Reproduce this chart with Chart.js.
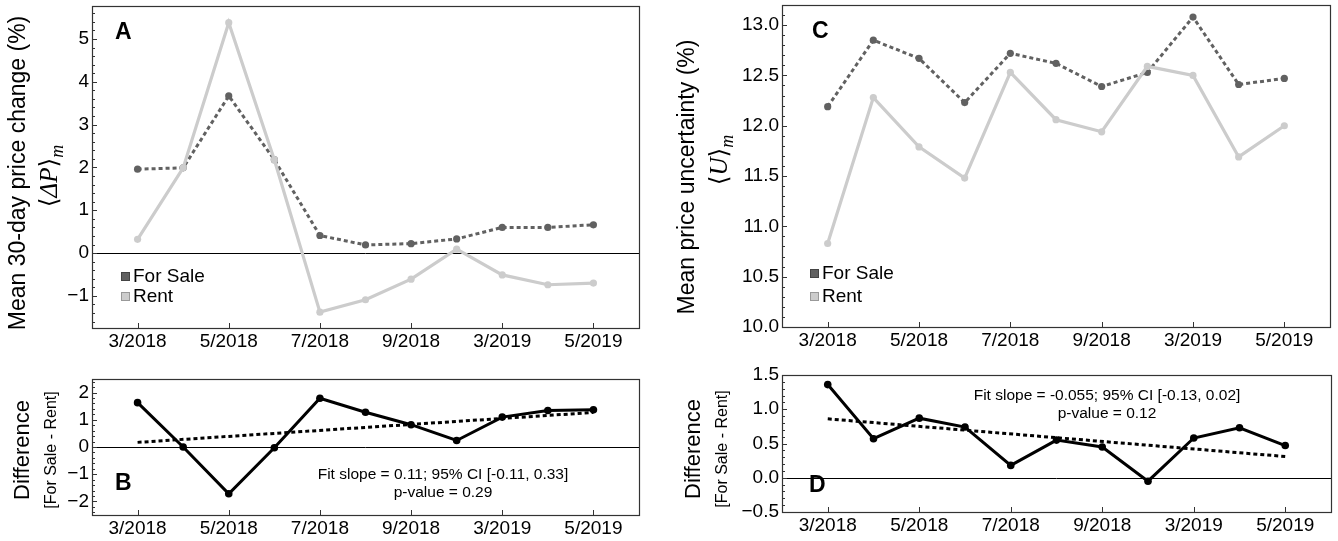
<!DOCTYPE html>
<html>
<head>
<meta charset="utf-8">
<title>Price change and uncertainty</title>
<script src="https://cdn.jsdelivr.net/npm/chart.js@4.4.0/dist/chart.umd.min.js"></script>
<style>
  html, body { margin: 0; padding: 0; background: #fff; }
  #wrap { position: relative; width: 1338px; height: 541px; overflow: hidden; }
  canvas { position: absolute; }
</style>
</head>
<body>
<div id="wrap">
  <canvas id="chartA" width="660" height="360" style="left:0;top:0"></canvas>
  <canvas id="chartB" width="660" height="196" style="left:0;top:345px"></canvas>
  <canvas id="chartC" width="668" height="360" style="left:670px;top:0"></canvas>
  <canvas id="chartD" width="668" height="196" style="left:670px;top:345px"></canvas>
</div>
<script>
// months of the survey (only every other one gets a label)
var months = ['3/2018', '4/2018', '5/2018', '6/2018', '7/2018', '8/2018',
              '9/2018', '10/2018', '3/2019', '4/2019', '5/2019'];
var tickLabels = ['3/2018', '5/2018', '7/2018', '9/2018', '3/2019', '5/2019'];

// A: mean 30-day price change (%)
var changeSale = [1.96, 1.99, 3.67, 2.18, 0.41, 0.19, 0.22, 0.33, 0.60, 0.60, 0.66];
var changeRent = [0.32, 1.99, 5.38, 2.18, -1.38, -1.09, -0.61, 0.09, -0.51, -0.74, -0.70];
// B: difference for sale - rent, and the fit line at first and last month
var changeDiff = [1.63, 0.00, -1.72, -0.03, 1.79, 1.28, 0.82, 0.24, 1.10, 1.34, 1.37];
var changeFit = [0.17, 1.27];

// C: mean price uncertainty (%)
var uncSale = [12.19, 12.85, 12.67, 12.23, 12.72, 12.62, 12.39, 12.53, 13.08, 12.41, 12.47];
var uncRent = [10.83, 12.28, 11.79, 11.48, 12.53, 12.06, 11.94, 12.59, 12.50, 11.69, 12.00];
// D: difference for sale - rent, and the fit line
var uncDiff = [1.36, 0.57, 0.87, 0.74, 0.18, 0.55, 0.45, -0.05, 0.58, 0.73, 0.47];
var uncFit = [0.86, 0.31];

var yTicksA = [-1, 0, 1, 2, 3, 4, 5];
var yTicksB = [-2, -1, 0, 1, 2];
var yTicksC = [10.0, 10.5, 11.0, 11.5, 12.0, 12.5, 13.0];
var yTicksD = [-0.5, 0.0, 0.5, 1.0, 1.5];

var SANS = "'Liberation Sans', Arial, Helvetica, sans-serif";
var SERIF = "'Liberation Serif', 'DejaVu Serif', serif";
var SALE = '#616161';
var RENT = '#cccccc';

function pts(values) {
  return values.map(function (v, i) { return { x: i, y: v }; });
}
function fitPts(ends) {
  return [{ x: 0, y: ends[0] }, { x: months.length - 1, y: ends[1] }];
}

function xScale(h) {
  return {
    type: 'linear', min: -1, max: 11,
    afterBuildTicks: function (s) {
      s.ticks = tickLabels.map(function (t) { return { value: months.indexOf(t) }; });
    },
    afterFit: function (s) { s.height = h; s.paddingLeft = 0; s.paddingRight = 0; },
    grid: { display: false, drawTicks: false },
    border: { display: false },
    ticks: {
      color: '#000', padding: 2, maxRotation: 0, autoSkip: false,
      font: { family: SANS, size: 19 },
      callback: function (v) { return months[v]; }
    }
  };
}

function yScale(min, max, ticks, dec, w) {
  return {
    type: 'linear', min: min, max: max,
    afterBuildTicks: function (s) {
      s.ticks = ticks.map(function (t) { return { value: t }; });
    },
    afterFit: function (s) { s.width = w; s.paddingTop = 0; s.paddingBottom = 0; },
    grid: { display: false, drawTicks: false },
    border: { display: false },
    ticks: {
      color: '#000', padding: 3,
      font: { family: SANS, size: 19 },
      callback: function (v) { return v.toFixed(dec).replace('-', '\u2212'); }
    }
  };
}

// frame, inward ticks and zero line, Mathematica style
function framePlugin(majors, minorStep, zero) {
  return {
    id: 'frame',
    beforeDatasetsDraw: function (chart) {
      if (!zero) return;
      var a = chart.chartArea, ctx = chart.ctx, y = Math.round(chart.scales.y.getPixelForValue(0)) + 0.5;
      ctx.save();
      ctx.strokeStyle = '#000';
      ctx.lineWidth = 1;
      ctx.beginPath(); ctx.moveTo(a.left, y); ctx.lineTo(a.right, y); ctx.stroke();
      ctx.restore();
    },
    afterDraw: function (chart) {
      var a = chart.chartArea, ctx = chart.ctx, ys = chart.scales.y, xs = chart.scales.x;
      ctx.save();
      ctx.strokeStyle = '#333';
      ctx.lineWidth = 1.2;
      ctx.strokeRect(Math.round(a.left) + 0.5, Math.round(a.top) + 0.5,
        Math.round(a.right - a.left), Math.round(a.bottom - a.top));
      ctx.lineWidth = 1;
      ctx.beginPath();
      var n0 = Math.ceil(ys.min / minorStep - 1e-6), n1 = Math.floor(ys.max / minorStep + 1e-6);
      for (var n = n0; n <= n1; n++) {
        var v = n * minorStep;
        var major = majors.some(function (m) { return Math.abs(m - v) < 1e-6; });
        var py = Math.round(ys.getPixelForValue(v)) + 0.5;
        ctx.moveTo(a.left, py); ctx.lineTo(a.left + (major ? 5 : 3), py);
      }
      tickLabels.forEach(function (t) {
        var px = Math.round(xs.getPixelForValue(months.indexOf(t))) + 0.5;
        ctx.moveTo(px, a.bottom); ctx.lineTo(px, a.bottom - 5);
      });
      ctx.stroke();
      ctx.restore();
    }
  };
}

function rotText(ctx, text, x, y, font) {
  ctx.save();
  ctx.translate(x, y);
  ctx.rotate(-Math.PI / 2);
  ctx.font = font;
  ctx.textAlign = 'center';
  ctx.textBaseline = 'alphabetic';
  ctx.fillText(text, 0, 0);
  ctx.restore();
}

// <symbol>_m written sideways
function rotMath(ctx, sym, x, y) {
  var parts = [
    ['\u27E8', '25px ' + SERIF, 0],
    [sym, 'italic 25px ' + SERIF, 0],
    ['\u27E9', '25px ' + SERIF, 0],
    ['m', 'italic 18px ' + SERIF, 6]
  ];
  ctx.save();
  ctx.translate(x, y);
  ctx.rotate(-Math.PI / 2);
  ctx.textBaseline = 'alphabetic';
  ctx.textAlign = 'left';
  var total = 0;
  parts.forEach(function (p) { ctx.font = p[1]; total += ctx.measureText(p[0]).width; });
  var cx = -total / 2;
  parts.forEach(function (p) {
    ctx.font = p[1];
    ctx.fillText(p[0], cx, p[2]);
    cx += ctx.measureText(p[0]).width;
  });
  ctx.restore();
}

function legend(ctx, x, y1, y2, textX) {
  [[SALE, '#444', 'For Sale', y1], [RENT, '#999', 'Rent', y2]].forEach(function (e) {
    ctx.fillStyle = e[0];
    ctx.fillRect(x, e[3] - 4, 9, 9);
    ctx.strokeStyle = e[1];
    ctx.lineWidth = 1;
    ctx.strokeRect(x + 0.5, e[3] - 3.5, 8, 8);
    ctx.fillStyle = '#000';
    ctx.font = '19px ' + SANS;
    ctx.textAlign = 'left';
    ctx.textBaseline = 'middle';
    ctx.fillText(e[2], textX, e[3] + 1);
  });
}

function letter(ctx, t, x, y) {
  ctx.fillStyle = '#000';
  ctx.font = 'bold 23px ' + SANS;
  ctx.textAlign = 'left';
  ctx.textBaseline = 'alphabetic';
  ctx.fillText(t, x, y);
}

function note(ctx, lines, x, y1, y2) {
  ctx.fillStyle = '#000';
  ctx.font = '15.5px ' + SANS;
  ctx.textAlign = 'center';
  ctx.textBaseline = 'middle';
  ctx.fillText(lines[0], x, y1);
  ctx.fillText(lines[1], x, y2);
}

function topConfig(sale, rent, yopts, frame, pad, decor) {
  return {
    type: 'line',
    data: {
      datasets: [
        { label: 'Rent', data: pts(rent), borderColor: RENT, backgroundColor: RENT,
          borderWidth: 3.2, pointRadius: 3.6, pointBorderWidth: 0, tension: 0 },
        { label: 'For Sale', data: pts(sale), borderColor: SALE, backgroundColor: SALE,
          borderWidth: 3, borderDash: [4, 3], pointRadius: 3.6, pointBorderWidth: 0, tension: 0 }
      ]
    },
    options: {
      responsive: false, animation: false,
      layout: { padding: pad },
      plugins: { legend: { display: false }, tooltip: { enabled: false } },
      scales: { x: xScale(pad.xh), y: yopts }
    },
    plugins: [frame, { id: 'decor', afterDraw: function (c) { decor(c.ctx); } }]
  };
}

function diffConfig(diff, fit, yopts, frame, pad, decor) {
  return {
    type: 'line',
    data: {
      datasets: [
        { label: 'Difference', data: pts(diff), borderColor: '#000', backgroundColor: '#000',
          borderWidth: 3, pointRadius: 3.8, pointBorderWidth: 0, tension: 0 },
        { label: 'Fit', data: fitPts(fit), borderColor: '#000', borderWidth: 3,
          borderDash: [4, 3], pointRadius: 0, tension: 0 }
      ]
    },
    options: {
      responsive: false, animation: false,
      layout: { padding: pad },
      plugins: { legend: { display: false }, tooltip: { enabled: false } },
      scales: { x: xScale(pad.xh), y: yopts }
    },
    plugins: [frame, { id: 'decor', afterDraw: function (c) { decor(c.ctx); } }]
  };
}

var chartA = new Chart(document.getElementById('chartA'), topConfig(
  changeSale, changeRent,
  yScale(-1.75, 5.77, yTicksA, 0, 92),
  framePlugin(yTicksA, 0.2, true),
  { top: 6, right: 21, left: 0, bottom: 0, xh: 32 },
  function (ctx) {
    ctx.fillStyle = '#000';
    rotText(ctx, 'Mean 30-day price change (%)', 25, 173, '23px ' + SANS);
    rotMath(ctx, '\u0394P', 57, 176);
    letter(ctx, 'A', 115, 39);
    legend(ctx, 121, 276, 296, 133);
  }
));

var chartB = new Chart(document.getElementById('chartB'), diffConfig(
  changeDiff, changeFit,
  yScale(-2.5, 2.5, yTicksB, 0, 92),
  framePlugin(yTicksB, 0.2, true),
  { top: 34, right: 21, left: 0, bottom: 0, xh: 26 },
  function (ctx) {
    ctx.fillStyle = '#000';
    rotText(ctx, 'Difference', 29, 105, '22px ' + SANS);
    rotText(ctx, '[For Sale - Rent]', 56, 105, '16px ' + SANS);
    letter(ctx, 'B', 115, 145);
    note(ctx, ['Fit slope = 0.11; 95% CI [-0.11, 0.33]', 'p-value = 0.29'], 443, 130, 148);
  }
));

var chartC = new Chart(document.getElementById('chartC'), topConfig(
  uncSale, uncRent,
  yScale(10.0, 13.2, yTicksC, 1, 112),
  framePlugin(yTicksC, 0.1, false),
  { top: 5, right: 8, left: 0, bottom: 0, xh: 33 },
  function (ctx) {
    ctx.fillStyle = '#000';
    rotText(ctx, 'Mean price uncertainty (%)', 24, 177, '23px ' + SANS);
    rotMath(ctx, 'U', 57, 160);
    letter(ctx, 'C', 142, 38);
    legend(ctx, 140, 273, 296, 152);
  }
));

var chartD = new Chart(document.getElementById('chartD'), diffConfig(
  uncDiff, uncFit,
  yScale(-0.5, 1.5, yTicksD, 1, 112),
  framePlugin(yTicksD, 0.1, true),
  { top: 30, right: 7, left: 0, bottom: 0, xh: 29 },
  function (ctx) {
    ctx.fillStyle = '#000';
    rotText(ctx, 'Difference', 30, 104, '22px ' + SANS);
    rotText(ctx, '[For Sale - Rent]', 57, 104, '16px ' + SANS);
    letter(ctx, 'D', 139, 147);
    note(ctx, ['Fit slope = -0.055; 95% CI [-0.13, 0.02]', 'p-value = 0.12'], 437, 51, 69);
  }
));
</script>
</body>
</html>
